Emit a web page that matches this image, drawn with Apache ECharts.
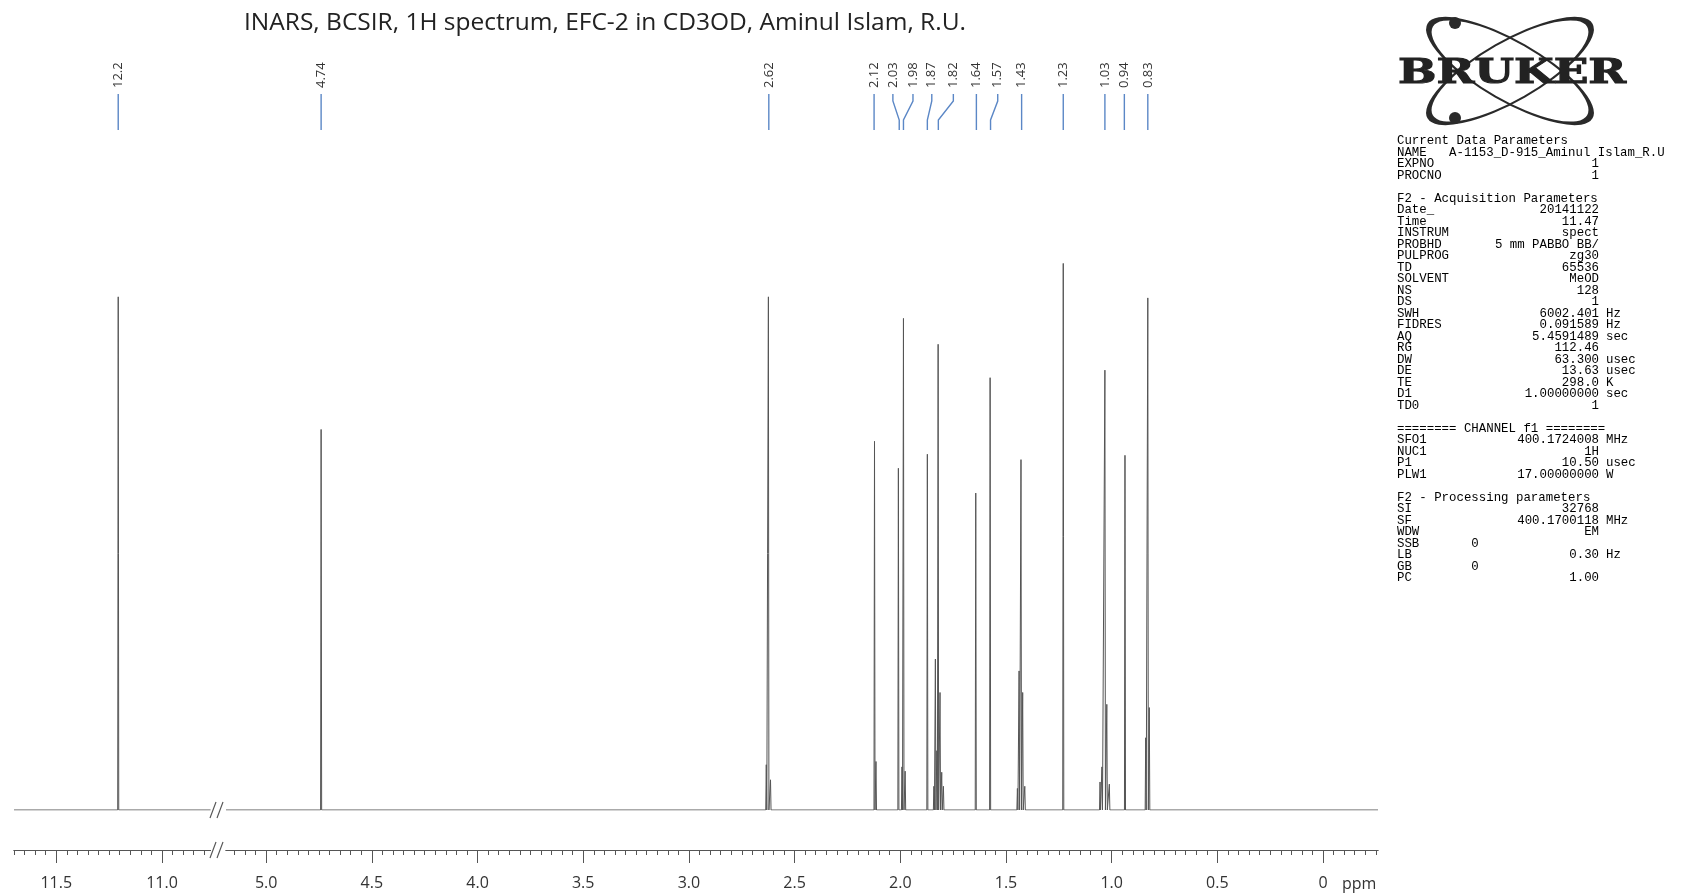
<!DOCTYPE html>
<html><head><meta charset="utf-8">
<script src="https://cdn.jsdelivr.net/npm/echarts@6/dist/echarts.min.js"></script>
<style>html,body{margin:0;padding:0;background:#fff}#c{width:1686px;height:893px}</style>
</head><body><div id="c"></div>
<script>
// ---------- data ----------
const titleText = 'INARS, BCSIR, 1H spectrum, EFC-2 in CD3OD, Aminul Islam, R.U.';

// spectral lines (ppm) and their heights (arbitrary intensity units)
const linePpm    = [11.207, 4.740, 2.634, 2.624, 2.614, 2.122, 2.115, 2.009, 1.992, 1.985, 1.977, 1.872,
                    1.841, 1.834, 1.827, 1.821, 1.812, 1.804, 1.796, 1.643, 1.575,
                    1.446, 1.438, 1.429, 1.421, 1.411, 1.229,
                    1.055, 1.046, 1.032, 1.023, 1.011, 0.937, 0.839, 0.829, 0.822];
const lineHeight = [476, 353, 42, 476, 28, 342, 45, 317, 40, 456, 36, 330,
                    22, 140, 55, 432, 109, 35, 22, 294, 401,
                    20, 129, 325, 109, 22, 507,
                    26, 40, 408, 98, 24, 329, 67, 475, 95];

// peak annotations: label text, where the label sits, where its leader line ends
const peakLabels = ['12.2', '4.74', '2.62', '2.12', '2.03', '1.98', '1.87', '1.82', '1.64', '1.57', '1.43', '1.23', '1.03', '0.94', '0.83'];
const labelPos   = [11.207, 4.740, 2.622, 2.124, 2.035, 1.940, 1.851, 1.749, 1.640, 1.539, 1.426, 1.229, 1.032, 0.940, 0.829];
const pickPos    = [11.207, 4.740, 2.622, 2.124, 2.005, 1.985, 1.872, 1.820, 1.640, 1.573, 1.426, 1.229, 1.032, 0.940, 0.829];

// broken ppm axis: two segments
const leftRange  = [10.77, 11.70];
const rightRange = [-0.26, 5.19];
const leftMajor  = [11.5, 11.0];
const rightMajor = [5.0, 4.5, 4.0, 3.5, 3.0, 2.5, 2.0, 1.5, 1.0, 0.5, 0];

// acquisition / processing parameter panel
const paramRows = [
  ['Current Data Parameters', '', ''],
  ['NAME   A-1153_D-915_Aminul Islam_R.U', '', ''],
  ['EXPNO', '1', ''],
  ['PROCNO', '1', ''],
  null,
  ['F2 - Acquisition Parameters', '', ''],
  ['Date_', '20141122', ''],
  ['Time', '11.47', ''],
  ['INSTRUM', 'spect', ''],
  ['PROBHD', '5 mm PABBO BB/', ''],
  ['PULPROG', 'zg30', ''],
  ['TD', '65536', ''],
  ['SOLVENT', 'MeOD', ''],
  ['NS', '128', ''],
  ['DS', '1', ''],
  ['SWH', '6002.401', 'Hz'],
  ['FIDRES', '0.091589', 'Hz'],
  ['AQ', '5.4591489', 'sec'],
  ['RG', '112.46', ''],
  ['DW', '63.300', 'usec'],
  ['DE', '13.63', 'usec'],
  ['TE', '298.0', 'K'],
  ['D1', '1.00000000', 'sec'],
  ['TD0', '1', ''],
  null,
  ['======== CHANNEL f1 ========', '', ''],
  ['SFO1', '400.1724008', 'MHz'],
  ['NUC1', '1H', ''],
  ['P1', '10.50', 'usec'],
  ['PLW1', '17.00000000', 'W'],
  null,
  ['F2 - Processing parameters', '', ''],
  ['SI', '32768', ''],
  ['SF', '400.1700118', 'MHz'],
  ['WDW', 'EM', ''],
  ['SSB       0', '', ''],
  ['LB', '0.30', 'Hz'],
  ['GB        0', '', ''],
  ['PC', '1.00', '']
];

// ---------- build ----------
const W = 0.0025; // half base width of a line (ppm)
function buildTrace(range) {
  const idx = linePpm.map((p, i) => i).filter(i => linePpm[i] > range[0] && linePpm[i] < range[1])
                     .sort((a, b) => linePpm[b] - linePpm[a]);
  const pts = [[range[1], 0]];
  idx.forEach(i => { pts.push([linePpm[i] + W, 0], [linePpm[i], lineHeight[i]], [linePpm[i] - W, 0]); });
  pts.push([range[0], 0]);
  return pts;
}
function minorTicks(range) {
  const out = [];
  for (let k = Math.ceil(range[0] * 20); k <= Math.floor(range[1] * 20); k++) out.push(k / 20);
  return out;
}
const AX = '#555';
const labelFont = 'Open Sans';
function mkAxis(grid, range, ticks, len, showLabels) {
  return {
    type: 'value', gridIndex: grid, inverse: true, min: range[0], max: range[1],
    position: 'bottom', offset: 40,
    axisLine: { show: true, onZero: false, lineStyle: { color: AX, width: 1 } },
    axisTick: { show: true, customValues: ticks, length: len, lineStyle: { color: AX, width: 1 } },
    axisLabel: { show: showLabels, customValues: ticks, margin: 25, fontSize: 16, color: '#333',
      fontFamily: labelFont, formatter: v => (v === 0 ? '0' : v.toFixed(1)) },
    splitLine: { show: false }, minorTick: { show: false }
  };
}
function annotSeries(xi, yi, keep) {
  const data = [];
  peakLabels.forEach((t, i) => { if (keep(labelPos[i])) data.push([labelPos[i], pickPos[i], i]); });
  return {
    type: 'custom', xAxisIndex: xi, yAxisIndex: yi, clip: false, silent: true, z: 5,
    encode: { x: 0 },
    data,
    renderItem: (params, api) => {
      const i = api.value(2);
      const x1 = api.coord([api.value(0), 0])[0];
      const x2 = api.coord([api.value(1), 0])[0];
      return { type: 'group', children: [
        { type: 'polyline', shape: { points: [[x1, 94], [x1, 101], [x2, 120], [x2, 130]] },
          style: { stroke: '#5b87c6', lineWidth: 1.4, fill: null } },
        { type: 'text', x: x1, y: 88, rotation: Math.PI / 2,
          style: { text: peakLabels[i], fontSize: 13, fontFamily: labelFont, fill: '#333',
                   align: 'left', verticalAlign: 'middle' } }
      ] };
    }
  };
}

// graphic: break marks, ppm unit, logo, parameter panel
const graphics = [];
[810, 850].forEach(y => [0, 7].forEach(dx => graphics.push({
  type: 'line', shape: { x1: 210 + dx, y1: y + 8, x2: 216 + dx, y2: y - 8 },
  style: { stroke: '#555', lineWidth: 1.2 }, silent: true })));
graphics.push({ type: 'text', x: 1342, y: 884, style: { text: 'ppm', fontSize: 16, fontFamily: labelFont,
  fill: '#333', align: 'left', verticalAlign: 'middle' } });

// logo
[-0.52, 0.52].forEach(r => graphics.push({ type: 'circle', x: 1510, y: 71, rotation: r, scaleY: 0.32,
  shape: { cx: 0, cy: 0, r: 92 }, style: { fill: null, stroke: '#2a2a2a', lineWidth: 3.5, strokeNoScale: true } }));
[[1455, 23], [1455, 118]].forEach(p => graphics.push({ type: 'circle', shape: { cx: p[0], cy: p[1], r: 6 },
  style: { fill: '#2a2a2a' } }));
graphics.push({ type: 'text', x: 1398, y: 74, scaleX: 1.38,
  style: { text: 'BRUKER', fontSize: 33, fontWeight: 'bold', fontFamily: 'DejaVu Serif', fill: '#222',
           stroke: '#222', lineWidth: 1, align: 'left', verticalAlign: 'middle' } });

// parameter text
const PX = 1397, VX = 1599, UX = 1606, STEP = 11.5, BLANK = 11.5;
let py = 141;
const pfont = { fontSize: 12.4, fontFamily: 'Liberation Mono', fill: '#000', verticalAlign: 'middle' };
paramRows.forEach(r => {
  if (!r) { py += BLANK; return; }
  graphics.push({ type: 'text', x: PX, y: py, style: Object.assign({ text: r[0], align: 'left' }, pfont) });
  if (r[1]) graphics.push({ type: 'text', x: VX, y: py, style: Object.assign({ text: r[1], align: 'right' }, pfont) });
  if (r[2]) graphics.push({ type: 'text', x: UX, y: py, style: Object.assign({ text: r[2], align: 'left' }, pfont) });
  py += STEP;
});

const YMAX = 538;
const option = {
  animation: false,
  backgroundColor: '#fff',
  title: { text: titleText, left: 600, top: 6, textAlign: 'center',
    textStyle: { fontFamily: labelFont, fontSize: 24.5, fontWeight: 'normal', color: '#222' } },
  grid: [
    { left: 14, width: 196.6, top: 230, bottom: 83, containLabel: false, outerBoundsMode: 'none' },
    { left: 226, width: 1152, top: 230, bottom: 83, containLabel: false, outerBoundsMode: 'none' }
  ],
  xAxis: [
    mkAxis(0, leftRange, minorTicks(leftRange), 5, false),
    mkAxis(0, leftRange, leftMajor, 13, true),
    mkAxis(1, rightRange, minorTicks(rightRange), 5, false),
    mkAxis(1, rightRange, rightMajor, 13, true)
  ],
  yAxis: [
    { type: 'value', gridIndex: 0, min: 0, max: YMAX, show: false },
    { type: 'value', gridIndex: 1, min: 0, max: YMAX, show: false }
  ],
  series: [
    { type: 'line', xAxisIndex: 1, yAxisIndex: 0, data: buildTrace(leftRange), showSymbol: false, symbol: 'none',
      lineStyle: { color: '#555', width: 1 }, silent: true },
    { type: 'line', xAxisIndex: 3, yAxisIndex: 1, data: buildTrace(rightRange), showSymbol: false, symbol: 'none',
      lineStyle: { color: '#555', width: 1 }, silent: true },
    annotSeries(1, 0, p => p > 10),
    annotSeries(3, 1, p => p < 10)
  ],
  graphic: graphics
};
const chart = echarts.init(document.getElementById('c'));
chart.setOption(option);
</script></body></html>
